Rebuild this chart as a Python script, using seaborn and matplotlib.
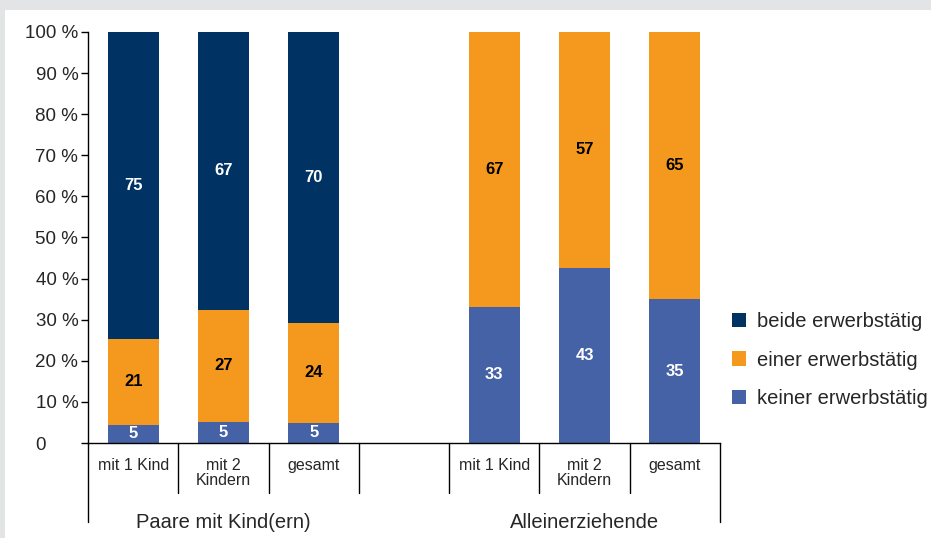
import numpy as np
import pandas as pd
import seaborn as sns
import matplotlib
matplotlib.use("Agg")
import matplotlib.pyplot as plt
from matplotlib.patches import Rectangle, Patch
import matplotlib.transforms as mtransforms

# ---- data -----------------------------------------------------------------
slots = ["P1", "P2", "P3", "gap", "A1", "A2", "A3"]
bar_slots = ["P1", "P2", "P3", "A1", "A2", "A3"]
categories = ["mit 1 Kind", "mit 2\nKindern", "gesamt", "", "mit 1 Kind", "mit 2\nKindern", "gesamt"]
groups = ["Paare mit Kind(ern)", "Alleinerziehende"]
series = ["beide erwerbstätig", "einer erwerbstätig", "keiner erwerbstätig"]

keiner = [4.4, 5.1, 4.9, 33.1, 42.6, 35.0]
einer = [20.9, 27.3, 24.3, 66.9, 57.4, 65.0]
beide = [74.7, 67.6, 70.8, 0.0, 0.0, 0.0]

label_keiner = ["5", "5", "5", "33", "43", "35"]
label_einer = ["21", "27", "24", "67", "57", "65"]
label_beide = ["75", "67", "70", "", "", ""]

yticks = [0, 10, 20, 30, 40, 50, 60, 70, 80, 90, 100]
ytick_labels = ["0      ", "10 %", "20 %", "30 %", "40 %", "50 %", "60 %", "70 %", "80 %", "90 %", "100 %"]

colors = {"beide erwerbstätig": "#003264",
          "einer erwerbstätig": "#F4991D",
          "keiner erwerbstätig": "#4462A5"}

# ---- style ----------------------------------------------------------------
sns.set_style("ticks")
plt.rcParams["font.family"] = ["Liberation Sans", "DejaVu Sans"]

fig = plt.figure(figsize=(9.31, 5.38), dpi=100)
fig.patch.set_facecolor("#E3E4E6")
fig.add_artist(Rectangle((5 / 931, 0), 1, (538 - 10) / 538, transform=fig.transFigure,
                         facecolor="white", edgecolor="none", zorder=-1))

ax = fig.add_axes([88 / 931, (538 - 443) / 538, (720 - 88) / 931, (443 - 32) / 538])
ax.set_facecolor("none")

df = pd.DataFrame({"slot": bar_slots, "keiner": keiner, "einer": einer, "beide": beide})
df["c_keiner"] = df["keiner"]
df["c_einer"] = df["keiner"] + df["einer"]
df["c_beide"] = df["keiner"] + df["einer"] + df["beide"]

bw = 0.565
for col, name in [("c_beide", series[0]), ("c_einer", series[1]), ("c_keiner", series[2])]:
    sns.barplot(data=df, x="slot", y=col, order=slots, color=colors[name],
                width=bw, linewidth=0, errorbar=None, saturation=1, ax=ax)

# value labels
pos = {s: i for i, s in enumerate(slots)}
for i, s in enumerate(bar_slots):
    x = pos[s]
    k, e, b = keiner[i], einer[i], beide[i]
    for lab, lo, hi, col in [(label_keiner[i], 0, k, "white"),
                             (label_einer[i], k, k + e, "black"),
                             (label_beide[i], k + e, k + e + b, "white")]:
        if lab:
            ax.text(x, (lo + hi) / 2, lab, ha="center", va="center", color=col,
                    fontsize=12, fontweight="bold")

ax.set_xlim(-0.5, 6.5)
ax.set_ylim(0, 100)
ax.set_yticks(yticks)
ax.set_yticklabels(ytick_labels, fontsize=13.5)
ax.tick_params(axis="y", direction="out", length=5, width=1, color="black", pad=2)
ax.set_xticks(range(len(slots)))
ax.set_xticklabels(categories, fontsize=11.5, va="top", linespacing=1.0)
ax.tick_params(axis="x", length=0, pad=11)
ax.set_xlabel("")
ax.set_ylabel("")
for sp in ["top", "right"]:
    ax.spines[sp].set_visible(False)
for sp in ["left", "bottom"]:
    ax.spines[sp].set_color("black")
    ax.spines[sp].set_linewidth(1)

# separators
trans = mtransforms.blended_transform_factory(ax.transData, ax.transAxes)
short = -(493 - 443) / (443 - 32)
long_ = -(522 - 443) / (443 - 32)
for xs in np.arange(-0.5, 7.0, 1.0):
    y1 = long_ if xs in (-0.5, 6.5) else short
    ax.plot([xs, xs], [0, y1], transform=trans, color="black", lw=1, clip_on=False)

gy = -(522 - 443) / (443 - 32)
ax.text(1, gy, groups[0], transform=trans, ha="center", va="center", fontsize=14.5)
ax.text(5, gy, groups[1], transform=trans, ha="center", va="center", fontsize=14.5)

handles = [Patch(facecolor=colors[s], edgecolor="none") for s in series]
fig.legend(handles, series, loc="upper left", bbox_to_anchor=(724 / 931, 1 - 304 / 538),
           frameon=False, fontsize=14.5, handlelength=0.7, handleheight=0.7,
           handletextpad=0.55, labelspacing=0.97, borderaxespad=0)

fig.savefig("out.png", dpi=100)
